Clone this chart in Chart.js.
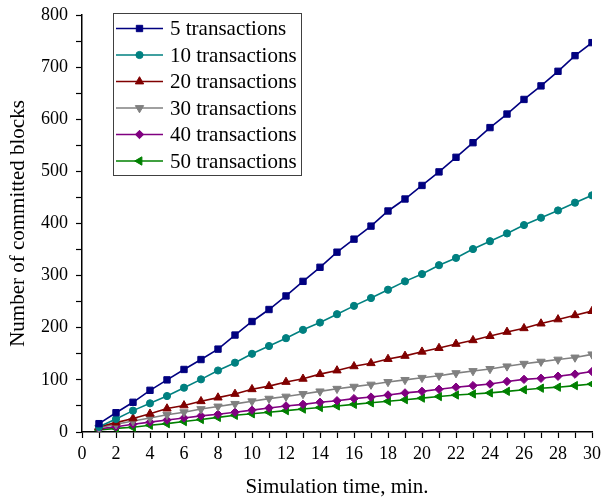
<!DOCTYPE html>
<html>
<head>
<meta charset="utf-8">
<script src="https://cdn.jsdelivr.net/npm/chart.js@4/dist/chart.umd.min.js"></script>
<style>
  html, body { margin: 0; padding: 0; background: #fff; }
  #wrap { width: 602px; height: 500px; position: relative; }
</style>
</head>
<body>
<div id="wrap"><canvas id="c" width="602" height="500"></canvas></div>
<script>
const times = [1,2,3,4,5,6,7,8,9,10,11,12,13,14,15,16,17,18,19,20,21,22,23,24,25,26,27,28,29,30];
const seriesNames = ['5 transactions','10 transactions','20 transactions','30 transactions','40 transactions','50 transactions'];
const tx5  = [16,37,57,80,100,120,139,159,186,212,235,261,289,316,345,370,395,424,447,473,499,527,555,584,610,638,664,692,722,747];
const tx10 = [10,25,41,55,69,85,101,118,133,150,165,180,196,210,226,242,257,273,289,303,320,334,351,366,381,397,411,425,440,454];
const tx20 = [10,18,26,35,45,51,59,66,73,82,88,96,102,111,118,126,132,140,146,154,161,169,176,184,192,199,208,216,224,232];
const tx30 = [8,15,21,27,33,38,44,49,54,59,64,68,73,78,83,87,91,96,100,104,108,113,117,121,126,131,135,139,143,149];
const tx40 = [6,10,15,19,23,27,31,34,38,42,46,50,53,57,60,64,67,71,75,78,82,86,89,92,97,101,103,107,111,116];
const tx50 = [4,7,9,13,16,20,24,28,32,35,38,41,44,47,50,53,56,59,62,65,68,71,73,75,78,81,84,86,89,92];

const colors = ['#000080','#008080','#800000','#808080','#800080','#008000'];
const styles = [
  {pointStyle:'rect', radius:4.5, rotation:0},
  {pointStyle:'circle', radius:3.6, rotation:0},
  {pointStyle:'triangle', radius:4.8, rotation:0},
  {pointStyle:'triangle', radius:4.8, rotation:180},
  {pointStyle:'rectRot', radius:4.2, rotation:0},
  {pointStyle:'triangle', radius:4.8, rotation:-90}
];
const allSeries = [tx5, tx10, tx20, tx30, tx40, tx50];

const FONT = "'Liberation Serif', 'Times New Roman', serif";

const datasets = allSeries.map((s, i) => ({
  label: seriesNames[i],
  data: times.map((t, j) => ({x: t, y: s[j]})),
  borderColor: colors[i],
  backgroundColor: colors[i],
  borderWidth: 1.6,
  pointStyle: styles[i].pointStyle,
  pointRadius: styles[i].radius,
  pointRotation: styles[i].rotation,
  pointBorderWidth: 1,
  pointBorderColor: colors[i],
  pointBackgroundColor: colors[i],
  tension: 0,
  fill: false
}));

const legendPlugin = {
  id: 'boxLegend',
  afterDraw(chart) {
    const ctx = chart.ctx;
    ctx.save();
    const bx = 113, by = 13, bw = 188, bh = 162;
    ctx.fillStyle = '#ffffff';
    ctx.fillRect(bx, by, bw, bh);
    ctx.strokeStyle = '#404040';
    ctx.lineWidth = 1;
    ctx.strokeRect(bx + 0.5, by + 0.5, bw, bh);
    chart.data.datasets.forEach((ds, i) => {
      const y = 28.5 + i * 26.5;
      ctx.strokeStyle = ds.borderColor;
      ctx.lineWidth = 1.6;
      ctx.beginPath();
      ctx.moveTo(116, y);
      ctx.lineTo(163, y);
      ctx.stroke();
      ctx.fillStyle = ds.backgroundColor;
      ctx.lineWidth = 1;
      Chart.helpers.drawPoint(ctx, {pointStyle: ds.pointStyle, radius: ds.pointRadius, rotation: ds.pointRotation, borderWidth: 1}, 139.5, y);
      ctx.fillStyle = '#000';
      ctx.font = '21px ' + FONT;
      ctx.textBaseline = 'middle';
      ctx.textAlign = 'left';
      ctx.fillText(ds.label, 170, y + 1);
    });
    ctx.restore();
  }
};

new Chart(document.getElementById('c'), {
  type: 'line',
  data: { datasets },
  options: {
    responsive: false,
    animation: false,
    devicePixelRatio: 1,
    layout: { padding: { top: 15, right: 10, left: 0, bottom: 0 } },
    plugins: { legend: { display: false }, tooltip: { enabled: false } },
    scales: {
      x: {
        type: 'linear',
        min: 0, max: 30,
        afterFit(scale) { scale.height = 68; scale.paddingLeft = 0; scale.paddingRight = 0; },
        ticks: {
          stepSize: 1,
          autoSkip: false,
          maxRotation: 0,
          color: '#000',
          padding: 5,
          font: { family: FONT, size: 18 },
          callback: v => (v % 2 === 0 ? String(v) : '')
        },
        grid: { drawOnChartArea: false, drawTicks: true, tickLength: 6, color: '#000', tickWidth: 1.2 },
        border: { color: '#000', width: 1.5 },
        title: { display: true, text: 'Simulation time, min.', color: '#000', font: { family: FONT, size: 21 }, padding: { top: 0, bottom: 0 } }
      },
      y: {
        min: 0, max: 800,
        afterFit(scale) { scale.width = 82; scale.paddingTop = 0; scale.paddingBottom = 0; },
        ticks: {
          stepSize: 50,
          autoSkip: false,
          color: '#000',
          padding: 8,
          font: { family: FONT, size: 18 },
          callback: v => (v % 100 === 0 ? String(v) : '')
        },
        grid: { drawOnChartArea: false, drawTicks: true, tickLength: 6, color: '#000', tickWidth: 1.2 },
        border: { color: '#000', width: 1.5 },
        title: { display: true, text: 'Number of committed blocks', color: '#000', font: { family: FONT, size: 21 }, padding: { top: 6, bottom: 0 } }
      }
    }
  },
  plugins: [legendPlugin]
});
</script>
</body>
</html>
